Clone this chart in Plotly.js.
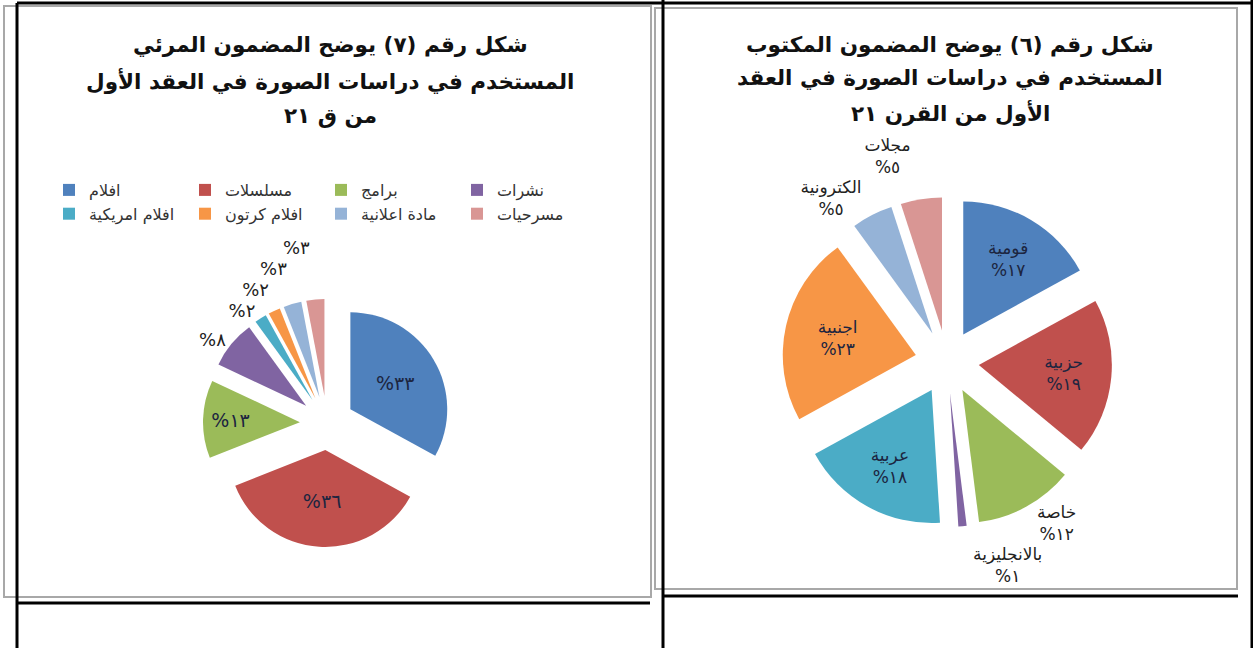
<!DOCTYPE html>
<html><head><meta charset="utf-8">
<script src="https://cdn.plot.ly/plotly-3.0.1.min.js"></script>
<style>
html,body{margin:0;padding:0;background:#fff;width:1253px;height:648px;overflow:hidden;}
#left{position:absolute;left:0;top:0;width:653px;height:648px;}
#right{position:absolute;left:653px;top:0;width:600px;height:648px;}
path.textline{display:none !important;}
</style></head><body>
<div id="left"></div><div id="right"></div>
<script>
// ---- Figure 7 (visual content) ----
const visualCategories = ['افلام','مسلسلات','برامج','نشرات','افلام امريكية','افلام كرتون','مادة اعلانية','مسرحيات'];
const visualValues = [33,36,13,8,2,2,3,3];
const visualTitle = ['شكل رقم (٧) يوضح المضمون المرئي','المستخدم في دراسات الصورة في العقد الأول','من ق ٢١'];

// ---- Figure 6 (written content) ----
const writtenCategories = ['قومية','حزبية','خاصة','بالانجليزية','عربية','اجنبية','الكترونية','مجلات'];
const writtenValues = [17,19,12,1,18,23,5,5];
const writtenTitle = ['شكل رقم (٦) يوضح المضمون المكتوب','المستخدم في دراسات الصورة في العقد','الأول من القرن ٢١'];

const sliceColors = ['#4F81BD','#C0504D','#9BBB59','#8064A2','#4BACC6','#F79646','#95B3D7','#D99694'];

const FONT = 'DejaVu Sans, Arial, sans-serif';
const H = 648;
function toArabicDigits(n){ return String(n).replace(/\d/g, d => '٠١٢٣٤٥٦٧٨٩'[d]); }
function pct(v){ return '%' + toArabicDigits(v); }

function line(W, x0, y0, x1, y1, color, width){
  return {type:'line', xref:'paper', yref:'paper', x0:x0/W, x1:x1/W, y0:1-y0/H, y1:1-y1/H,
          line:{color:color, width:width}};
}
function rect(W, x0, y0, x1, y1, color, width){
  return {type:'rect', xref:'paper', yref:'paper', x0:x0/W, x1:x1/W, y0:1-y0/H, y1:1-y1/H,
          line:{color:color, width:width}, fillcolor:'rgba(0,0,0,0)'};
}
function titleLines(W, cx, ys, lines){
  return lines.map((t,i)=>({text:t, xref:'paper', yref:'paper', x:cx/W, y:1-ys[i]/H,
     xanchor:'center', yanchor:'middle', showarrow:false,
     font:{family:FONT, size:21.5, color:'#111', weight:'bold'}}));
}

// ---------- Left figure ----------
const WL = 653;
const leftTrace = {
  type:'pie', labels:visualCategories, values:visualValues,
  text: visualValues.map(pct), textinfo:'text',
  textposition:['inside','inside','inside','outside','outside','outside','outside','outside'],
  insidetextorientation:'horizontal',
  sort:false, direction:'clockwise', rotation:0,
  pull:0.28,
  marker:{colors:sliceColors, line:{width:0}},
  insidetextfont:{family:FONT, size:19, color:'#1c2540'},
  outsidetextfont:{family:FONT, size:18, color:'#222'},
  domain:{x:[203/WL, 451/WL], y:[1-547/H, 1-299/H]},
  hoverinfo:'label+value'
};
const leftLayout = {
  width:WL, height:H, margin:{l:0,r:0,t:0,b:0},
  paper_bgcolor:'rgba(0,0,0,0)', plot_bgcolor:'rgba(0,0,0,0)',
  showlegend:true,
  legend:{orientation:'h', x:49/WL, y:1-173/H, xanchor:'left', yanchor:'top',
          entrywidth:91, entrywidthmode:'pixels',
          font:{family:FONT, size:16, color:'#333'}, traceorder:'normal'},
  annotations: titleLines(WL, 330, [45,80,115], visualTitle),
  shapes:[
    rect(WL, 4, 6, 651, 597, '#a8a8a8', 2),
    line(WL, 17, 3, WL, 3, '#000', 3),
    line(WL, 17, 3, 17, 648, '#000', 3),
    line(WL, 17, 603, 650, 603, '#000', 3)
  ]
};
Plotly.newPlot('left', [leftTrace], leftLayout, {displayModeBar:false, staticPlot:true});

// ---------- Right figure ----------
const WR = 600, OFF = 653;
const rightTrace = {
  type:'pie', labels:writtenCategories, values:writtenValues,
  text: writtenValues.map(pct), texttemplate:'%{label}<br>%{text}',
  textposition:['inside','inside','outside','outside','inside','inside','outside','outside'],
  insidetextorientation:'horizontal',
  sort:false, direction:'clockwise', rotation:0,
  pull:0.24,
  marker:{colors:sliceColors, line:{width:0}},
  insidetextfont:{family:FONT, size:17, color:'#1c2540'},
  outsidetextfont:{family:FONT, size:17, color:'#222'},
  domain:{x:[(782-OFF)/WR, (1112-OFF)/WR], y:[1-527/H, 1-197/H]},
  showlegend:false, hoverinfo:'label+value'
};
const rightLayout = {
  width:WR, height:H, margin:{l:0,r:0,t:0,b:0},
  paper_bgcolor:'rgba(0,0,0,0)', plot_bgcolor:'rgba(0,0,0,0)',
  showlegend:false,
  annotations: titleLines(WR, 950-OFF, [45,78,112], writtenTitle),
  shapes:[
    rect(WR, 655-OFF, 8, 1237-OFF, 589, '#a8a8a8', 2),
    line(WR, 0, 3, WR, 3, '#000', 3),
    line(WR, 663-OFF, 0, 663-OFF, 648, '#000', 3),
    line(WR, 1252-OFF, 0, 1252-OFF, 648, '#000', 3),
    line(WR, 663-OFF, 596, 1238-OFF, 596, '#000', 3)
  ]
};
Plotly.newPlot('right', [rightTrace], rightLayout, {displayModeBar:false, staticPlot:true});
</script>
</body></html>
